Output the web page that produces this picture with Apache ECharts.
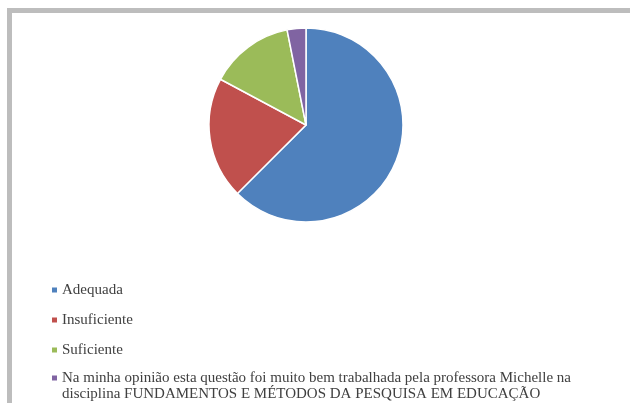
<!DOCTYPE html>
<html>
<head>
<meta charset="utf-8">
<script src="https://cdn.jsdelivr.net/npm/echarts@6/dist/echarts.min.js"></script>
<style>
  html, body { margin: 0; padding: 0; background: #fff; }
  #chart { position: absolute; left: 0; top: 0; width: 630px; height: 403px; }
  #frame {
    position: absolute; left: 7px; top: 8px; width: 700px; height: 500px;
    border: 5px solid #bdbdbd; pointer-events: none;
  }
</style>
</head>
<body>
<div id="chart"></div>
<div id="frame"></div>
<script>
const categories = [
  'Adequada',
  'Insuficiente',
  'Suficiente',
  'Na minha opinião esta questão foi muito bem trabalhada pela professora Michelle na disciplina FUNDAMENTOS E MÉTODOS DA PESQUISA EM EDUCAÇÃO'
];
const values = [40, 13, 9, 2];
const colors = ['#4F81BD', '#C0504D', '#9BBB59', '#8064A2'];

const chart = echarts.init(document.getElementById('chart'));

const legendText = {
  fontFamily: 'Liberation Serif',
  fontSize: 15,
  lineHeight: 16,
  color: '#404040'
};

const option = {
  animation: false,
  color: colors,
  legend: [
    {
      orient: 'vertical',
      left: 52,
      top: 282,
      padding: 0,
      itemGap: 14,
      itemWidth: 5,
      itemHeight: 5,
      icon: 'rect',
      itemStyle: { borderWidth: 0 },
      textStyle: legendText,
      data: categories.slice(0, 3)
    },
    {
      orient: 'vertical',
      left: 52,
      top: 354,
      padding: 0,
      itemWidth: 5,
      itemHeight: 5,
      icon: 'rect',
      itemStyle: { borderWidth: 0 },
      textStyle: legendText,
      // break after "na" like the original; the empty first line keeps the
      // marker level with the first text line
      formatter: name => '\n' + name.replace(' na disciplina', ' na\ndisciplina'),
      data: categories.slice(3)
    }
  ],
  series: [
    {
      type: 'pie',
      center: [306, 125],
      radius: 97,
      startAngle: 90,
      clockwise: true,
      label: { show: false },
      labelLine: { show: false },
      itemStyle: { borderColor: '#fff', borderWidth: 1.5 },
      emphasis: { disabled: true },
      data: categories.map((c, i) => ({ name: c, value: values[i] }))
    }
  ]
};

chart.setOption(option);
</script>
</body>
</html>
